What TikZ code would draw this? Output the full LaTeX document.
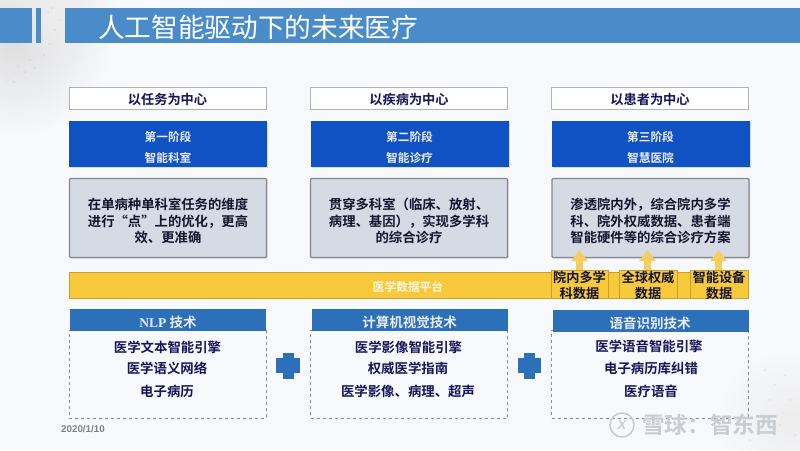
\documentclass[tikz,border=0pt]{standalone}
\usepackage{fontspec}
\setmainfont{Noto Sans CJK SC}
\newfontfamily\cjkb{Noto Sans CJK SC Bold}
\newfontfamily\latinb{Liberation Serif Bold}
\newfontfamily\arialf{Liberation Sans}
\usetikzlibrary{arrows.meta,shadows,fadings}
\tikzfading[name=cornerglow,inner color=transparent!0,outer color=transparent!100]
\definecolor{bgc}{HTML}{F8F9FD}
\definecolor{titleblue}{HTML}{4A8CC9}
\definecolor{stageblue}{HTML}{0F52C4}
\definecolor{techblue}{HTML}{2B70B9}
\definecolor{graybox}{HTML}{D6DAE4}
\definecolor{grayedge}{HTML}{85888E}
\definecolor{goldc}{HTML}{F7C93B}
\definecolor{arrowgold}{HTML}{F5CE5E}
\definecolor{navy}{HTML}{16145C}
\definecolor{ink}{HTML}{14142E}
\definecolor{wm}{HTML}{C9CCD0}
\tikzset{
  x=1pt,y=-1pt,
  headbox/.style={draw=black!30,line width=.9pt,fill=white,minimum width=197pt,minimum height=22pt,inner sep=0pt,text height=12pt,text depth=0pt,font=\cjkb\fontsize{13.2}{15}\selectfont,text=navy},
  stagebox/.style={fill=stageblue,minimum width=198pt,minimum height=46pt,inner sep=0pt,drop shadow={shadow xshift=1pt,shadow yshift=-1pt,opacity=.25}},
  stagetext/.style={inner sep=0pt,align=center,text=white!92!blue,font=\cjkb\fontsize{11.7}{20.5}\selectfont},
  descbox/.style={draw=grayedge,line width=1.1pt,fill=graybox,rounded corners=1pt,minimum width=197pt,minimum height=79pt,inner sep=0pt,drop shadow={shadow xshift=1pt,shadow yshift=-1pt,opacity=.3}},
  desctext/.style={inner sep=0pt,align=center,text=ink,font=\cjkb\fontsize{13.35}{16.3}\selectfont},
  databox/.style={draw=goldc!80!black,line width=.5pt,fill=goldc,inner sep=0pt,minimum height=28pt},
  datatext/.style={inner sep=0pt,align=center,text=ink,font=\cjkb\fontsize{13.2}{16}\selectfont},
  techhead/.style={fill=techblue,minimum width=196pt,minimum height=22pt,inner sep=0pt},
  techtitle/.style={inner sep=0pt,text height=11pt,text depth=0pt,text=white!92!blue,font=\cjkb\fontsize{13.5}{15}\selectfont},
  techbody/.style={draw=black!45,dashed,line width=.8pt,minimum width=197pt,minimum height=88pt,inner sep=0pt},
  techline/.style={inner sep=0pt,text height=10pt,text depth=0pt,text=navy,font=\cjkb\fontsize{13.4}{15}\selectfont},
  upconn/.style={draw=arrowgold,line width=7pt,-{Triangle[width=16pt,length=11pt]}},
  plusmark/.style={fill=techblue},
}
\begin{document}
\begin{tikzpicture}
\useasboundingbox (0,0) rectangle (800,450);
\fill[bgc] (0,0) rectangle (800,450);
% pale textured corners
\begin{scope}
\clip (0,0) rectangle (800,450);
\fill[black!13,path fading=cornerglow] (15,40) circle (95pt);
\fill[black!7,path fading=cornerglow] (60,5) circle (60pt);
\fill[black!7,path fading=cornerglow] (790,420) circle (70pt);
\end{scope}
\foreach \a/\b in {48/12,55/30,50/44,44/55,30/60,18/66,25/72,35/68,8/80,14/82,60/20,52/8}{\fill[black!25] (\a,\b) circle (.7pt);}
\foreach \a/\b in {765/370,775/385,785/375,770/400,790/400,760/415,780/425,795/435,750/440}{\fill[black!14] (\a,\b) circle (.8pt);}
% title bars
\fill[titleblue] (0,8) rectangle (32,43);
\fill[titleblue] (36,8) rectangle (41,43);
\node[fill=titleblue,minimum width=735pt,minimum height=35pt,inner sep=0pt] (titlebar) at (432.5,25.5) {};
\node[anchor=west,inner sep=0pt,text=white,font=\fontsize{26.65}{30}\selectfont] (titletext) at (98,27) {人工智能驱动下的未来医疗};
% column heads
\node[headbox] (h1) at (167.5,98) {以任务为中心};
\node[headbox] (h2) at (409,98) {以疾病为中心};
\node[headbox] (h3) at (650,98) {以患者为中心};
% stages
\node[stagebox] (s1) at (168,144) {};
\node[stagebox] (s2) at (409.5,144) {};
\node[stagebox] (s3) at (650.5,144) {};
\node[stagetext] (st1) at (168,147.5) {第一阶段\\智能科室};
\node[stagetext] (st2) at (409.5,147.5) {第二阶段\\智能诊疗};
\node[stagetext] (st3) at (650.5,147.5) {第三阶段\\智慧医院};
% descriptions
\node[descbox] (d1) at (168,218) {};
\node[descbox] (d2) at (409,218) {};
\node[descbox] (d3) at (650.5,218) {};
\node[desctext] (dt1) at (168,221) {在单病种单科室任务的维度\\进行“点”上的优化，更高\\效、更准确};
\node[desctext] (dt2) at (409,221) {贯穿多科室（临床、放射、\\病理、基因），实现多学科\\的综合诊疗};
\node[desctext] (dt3) at (650.5,221) {渗透院内外，综合院内多学\\科、院外权威数据、患者端\\智能硬件等的综合诊疗方案};
% platform
\node[draw=goldc!80!black,line width=.6pt,fill=goldc,minimum width=679pt,minimum height=26pt,inner sep=0pt] (plat) at (408.5,285) {};
\node[inner sep=0pt,text=white!85!goldc,font=\cjkb\fontsize{11.7}{13}\selectfont] (plattext) at (408,287) {医学数据平台};
% data boxes
\node[databox,minimum width=57pt] (b1) at (579.5,284) {};
\node[databox,minimum width=58pt] (b2) at (648,284) {};
\node[databox,minimum width=58pt] (b3) at (719,284) {};
\coordinate (t1) at (579.5,250);
\coordinate (t2) at (647.5,250);
\coordinate (t3) at (718.5,250);
\draw[upconn] (b1.north -| t1) -- (t1);
\draw[upconn] (b2.north -| t2) -- (t2);
\draw[upconn] (b3.north -| t3) -- (t3);
\node[datatext] (bt1) at (579.5,285) {院内多学\\科数据};
\node[datatext] (bt2) at (648,285) {全球权威\\数据};
\node[datatext] (bt3) at (719,285) {智能设备\\数据};
% tech boxes
\node[techbody] (tb1) at (167.5,374) {};
\node[techbody] (tb2) at (409,374) {};
\node[techbody] (tb3) at (650,374) {};
\node[techhead] (th1) at (168,320) {};
\node[techhead] (th2) at (409.5,320) {};
\node[techhead] (th3) at (650.5,321) {};
\node[techtitle] (tt1) at (168,322) {\latinb NLP \cjkb 技术};
\node[techtitle] (tt2) at (409.5,322) {计算机视觉技术};
\node[techtitle] (tt3) at (650,323) {语音识别技术};
\node[techline] (l11) at (167.5,347) {医学文本智能引擎};
\node[techline] (l12) at (167,368) {医学语义网络};
\node[techline] (l13) at (167,391) {电子病历};
\node[techline] (l21) at (408.5,347) {医学影像智能引擎};
\node[techline] (l22) at (408,368) {权威医学指南};
\node[techline] (l23) at (408,391) {医学影像、病理、超声};
\node[techline] (l31) at (649,346) {医学语音智能引擎};
\node[techline] (l32) at (651,368) {电子病历库纠错};
\node[techline] (l33) at (651,391) {医疗语音};
% plus signs
\fill[plusmark] (283,353) rectangle (294,379);
\fill[plusmark] (276,358) rectangle (300,373);
\fill[plusmark] (524,353) rectangle (535,379);
\fill[plusmark] (518,358) rectangle (541,373);
% date
\node[anchor=west,inner sep=0pt,text=black!50,font=\arialf\bfseries\fontsize{9.8}{11}\selectfont] (date) at (61,429) {2020/1/10};
% watermark
\node[circle,draw=wm,line width=1.6pt,minimum size=24pt,inner sep=0pt,text=wm,font=\cjkb\fontsize{13}{14}\selectfont] (logo) at (622,425) {\arialf\bfseries\itshape X};
\node[anchor=west,inner sep=0pt,text=wm,font=\cjkb\fontsize{22.6}{24}\selectfont] (wmtext) at (642,425) {雪球：智东西};
\end{tikzpicture}
\end{document}
